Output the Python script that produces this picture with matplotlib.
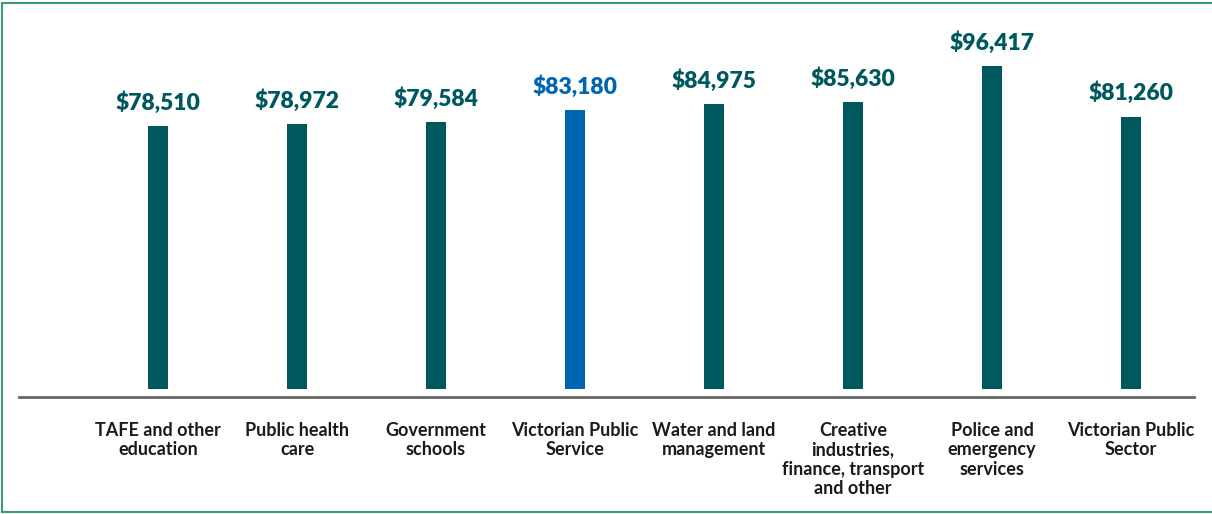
import matplotlib.pyplot as plt
from matplotlib.lines import Line2D

plt.rcParams['font.family'] = ['Lato', 'DejaVu Sans']

categories = ['TAFE and other\neducation', 'Public health\ncare', 'Government\nschools',
              'Victorian Public\nService', 'Water and land\nmanagement',
              'Creative\nindustries,\nfinance, transport\nand other',
              'Police and\nemergency\nservices', 'Victorian Public\nSector']
salaries = [78510, 78972, 79584, 83180, 84975, 85630, 96417, 81260]
highlight = 'Victorian Public\nService'

teal = '#00585F'
blue = '#0065B0'

W, H = 1212, 514
fig = plt.figure(figsize=(W / 100, H / 100), dpi=100)
ax = fig.add_axes([0, 0, 1, 1])

# pixel layout: first bar centre at x=158, 139px apart; zero at y=389, 298.5 dollars per px
px_step, x0 = 139.0, 158.0
per_px, y0 = 298.5, 389.0
ax.set_xlim(-x0 / px_step, (W - x0) / px_step)
ax.set_ylim(-(H - y0) * per_px, y0 * per_px)
ax.axis('off')

xs = range(len(categories))
colors = [blue if c == highlight else teal for c in categories]
ax.bar(xs, salaries, width=20 / px_step, color=colors)

for x, v, c in zip(xs, salaries, colors):
    ax.annotate(f'${v:,}', (x, v), xytext=(0, 9), textcoords='offset points',
                ha='center', va='bottom', fontsize=16.5, fontweight='heavy', color=c)
    ax.annotate(categories[x], (x, 0), xytext=(0, -24), textcoords='offset points',
                ha='center', va='top', fontsize=13, fontweight='bold', color='#1a1a1a',
                linespacing=1.15)

# baseline drawn slightly below the bars
ax.axhline(-8 * per_px, xmin=19 / W, xmax=1194 / W, color='#666666', lw=2)

# thin green frame around the figure
frame = dict(color='#3C9C72', lw=1.5, transform=fig.transFigure)
fig.add_artist(Line2D([1.5 / W, 1.5 / W], [1 - 3 / H, 1 - 512 / H], **frame))
fig.add_artist(Line2D([1.5 / W, 1], [1 - 3 / H, 1 - 3 / H], **frame))
fig.add_artist(Line2D([1.5 / W, 1], [1 - 512 / H, 1 - 512 / H], **frame))

fig.savefig('out.png', dpi=100)
